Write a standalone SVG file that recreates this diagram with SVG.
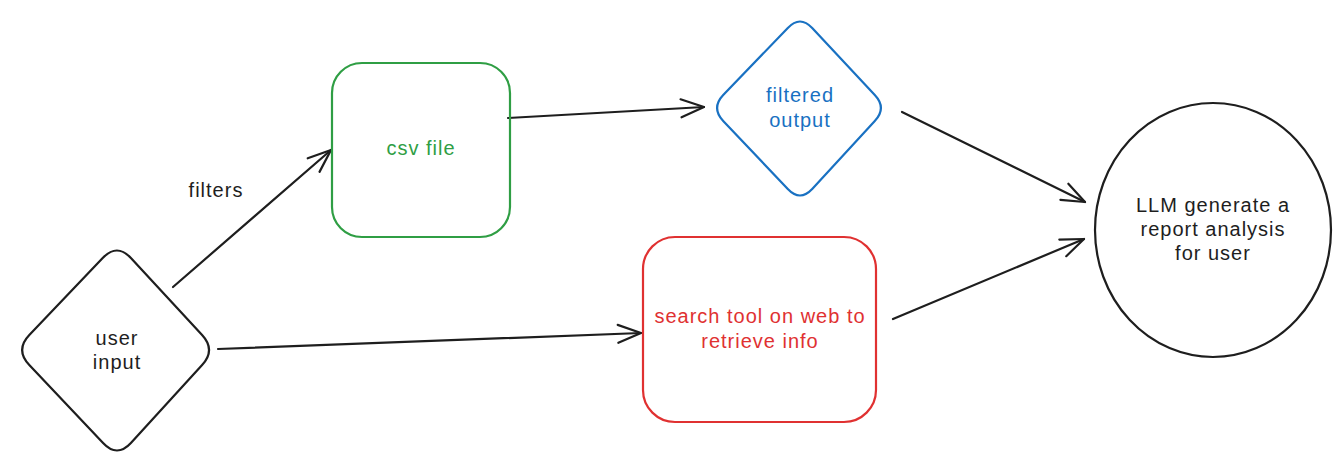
<svg xmlns="http://www.w3.org/2000/svg" width="1340" height="475" viewBox="0 0 1340 475">
<style>
  .shape { fill: none; stroke-width: 2.2; stroke-linejoin: round; }
  .lbl { font-family: "Liberation Sans", Arial, sans-serif; font-size: 20px; letter-spacing: 1px; text-anchor: middle; }
  .conn { fill: none; stroke: #1e1e1e; stroke-width: 2.2; stroke-linecap: round; }
</style>
<defs>
  <marker id="arr" markerUnits="userSpaceOnUse" markerWidth="40" markerHeight="40" refX="0" refY="0" viewBox="-30 -20 40 40" orient="auto" overflow="visible">
    <path d="M-23,-9 L0,0 L-23,9" fill="none" stroke="#1e1e1e" stroke-width="2.2" stroke-linecap="round" stroke-linejoin="round"/>
  </marker>
</defs>
<rect width="1340" height="475" fill="#ffffff"/>
<g id="connectors">
  <path class="conn" d="M173,287 L331,150" marker-end="url(#arr)"/>
  <path class="conn" d="M508,118 L704,107" marker-end="url(#arr)"/>
  <path class="conn" d="M218,349 L641,333" marker-end="url(#arr)"/>
  <path class="conn" d="M902,112 L1085,202" marker-end="url(#arr)"/>
  <path class="conn" d="M893,319 L1084,239" marker-end="url(#arr)"/>
  <text class="lbl" x="216" y="197" fill="#1e1e1e">filters</text>
</g>
<g id="user-input">
  <path class="shape" stroke="#1e1e1e" d="M130.9,258 L202.1,335 Q216,350 202.1,365 L130.9,443 Q117,458 103.1,443 L29.3,365 Q15,350 29.3,335 L102.7,258 Q117,243 130.9,258 Z"/>
  <text class="lbl" x="117" y="345" fill="#1e1e1e">user</text>
  <text class="lbl" x="117" y="369" fill="#1e1e1e">input</text>
</g>
<g id="csv-file">
  <rect class="shape" stroke="#2f9e44" x="332" y="63" width="178" height="174" rx="30" ry="30"/>
  <text class="lbl" x="421" y="155" fill="#2f9e44">csv file</text>
</g>
<g id="filtered-output">
  <path class="shape" stroke="#1971c2" d="M812.2,28 L874.8,95 Q887,108 874.8,121 L812.2,189 Q800,202 787.8,189 L723.2,121 Q711,108 723.2,95 L787.8,28 Q800,15 812.2,28 Z"/>
  <text class="lbl" x="800" y="102" fill="#1971c2">filtered</text>
  <text class="lbl" x="800" y="127" fill="#1971c2">output</text>
</g>
<g id="search-tool">
  <rect class="shape" stroke="#e03131" x="643" y="237" width="233" height="185" rx="32" ry="32"/>
  <text class="lbl" x="760" y="323" fill="#e03131">search tool on web to</text>
  <text class="lbl" x="760" y="348" fill="#e03131">retrieve info</text>
</g>
<g id="llm-report">
  <ellipse class="shape" stroke="#1e1e1e" cx="1213" cy="230" rx="118" ry="127"/>
  <text class="lbl" x="1213" y="212" fill="#1e1e1e">LLM generate a</text>
  <text class="lbl" x="1213" y="236" fill="#1e1e1e">report analysis</text>
  <text class="lbl" x="1213" y="260" fill="#1e1e1e">for user</text>
</g>
</svg>
